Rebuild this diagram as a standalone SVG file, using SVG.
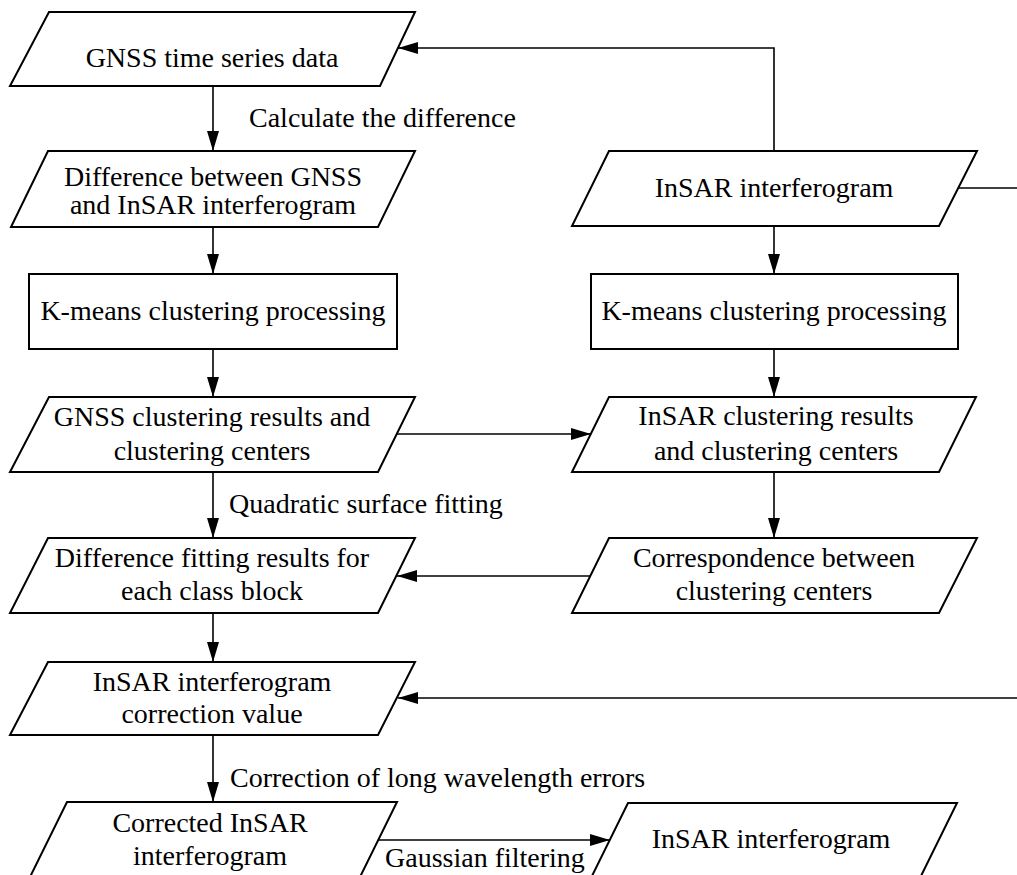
<svg xmlns="http://www.w3.org/2000/svg" width="1017" height="875" viewBox="0 0 1017 875">
<style>
.box{fill:#fff;stroke:#000;stroke-width:2}
.t{font-family:"Liberation Serif","Times New Roman",serif;font-size:28px;fill:#000;text-anchor:middle}
.lbl{font-family:"Liberation Serif","Times New Roman",serif;font-size:28px;fill:#000}
.c{fill:none;stroke:#000;stroke-width:1.6}
</style>
<defs>
<marker id="arr" markerUnits="userSpaceOnUse" markerWidth="20" markerHeight="12" refX="20" refY="6" orient="auto">
<path d="M0,0 L20,6 L0,12 z" fill="#000"/>
</marker>
</defs>
<rect width="1017" height="875" fill="#fff"/>
<g id="connectors">
<path class="c" d="M213,86 V151" marker-end="url(#arr)"/>
<path class="c" d="M213,227 V274" marker-end="url(#arr)"/>
<path class="c" d="M213,349 V397" marker-end="url(#arr)"/>
<path class="c" d="M213,472 V538" marker-end="url(#arr)"/>
<path class="c" d="M213,613 V662" marker-end="url(#arr)"/>
<path class="c" d="M213,735 V802" marker-end="url(#arr)"/>
<path class="c" d="M774,151 V48 H398" marker-end="url(#arr)"/>
<path class="c" d="M958,188 H1017"/>
<path class="c" d="M1017,698 H398" marker-end="url(#arr)"/>
<path class="c" d="M774,226 V274" marker-end="url(#arr)"/>
<path class="c" d="M774,349 V397" marker-end="url(#arr)"/>
<path class="c" d="M397,434 H591" marker-end="url(#arr)"/>
<path class="c" d="M774,472 V538" marker-end="url(#arr)"/>
<path class="c" d="M591,576 H397" marker-end="url(#arr)"/>
<path class="c" d="M378,840 H610" marker-end="url(#arr)"/>
</g>
<g id="n1">
<polygon class="box" points="49,12 415,12 380,86 10,86"/>
<text class="t" x="212" y="67">GNSS time series data</text>
</g>
<g id="n2">
<polygon class="box" points="48,151 415,151 378,227 11,227"/>
<text class="t" x="213" y="186">Difference between GNSS</text>
<text class="t" x="213" y="214">and InSAR interferogram</text>
</g>
<g id="n3">
<rect class="box" x="29" y="274" width="368" height="75"/>
<text class="t" x="213" y="320">K-means clustering processing</text>
</g>
<g id="n4">
<polygon class="box" points="49,397 415,397 378,472 10,472"/>
<text class="t" x="212" y="426">GNSS clustering results and</text>
<text class="t" x="212" y="460">clustering centers</text>
</g>
<g id="n5">
<polygon class="box" points="48,538 415,538 378,613 10,613"/>
<text class="t" x="212" y="567">Difference fitting results for</text>
<text class="t" x="212" y="600">each class block</text>
</g>
<g id="n6">
<polygon class="box" points="48,662 415,662 378,735 10,735"/>
<text class="t" x="212" y="691">InSAR interferogram</text>
<text class="t" x="212" y="723">correction value</text>
</g>
<g id="n7">
<polygon class="box" points="67,802 397,802 360,877 30,877"/>
<text class="t" x="210" y="832">Corrected InSAR</text>
<text class="t" x="210" y="865">interferogram</text>
</g>
<g id="n8">
<polygon class="box" points="628,803 957,803 920,878 591,878"/>
<text class="t" x="771" y="848">InSAR interferogram</text>
</g>
<g id="n9">
<polygon class="box" points="609,151 977,151 939,226 572,226"/>
<text class="t" x="774" y="197">InSAR interferogram</text>
</g>
<g id="n10">
<rect class="box" x="591" y="274" width="367" height="75"/>
<text class="t" x="774" y="320">K-means clustering processing</text>
</g>
<g id="n11">
<polygon class="box" points="609,397 976,397 939,472 572,472"/>
<text class="t" x="776" y="425">InSAR clustering results</text>
<text class="t" x="776" y="460">and clustering centers</text>
</g>
<g id="n12">
<polygon class="box" points="609,538 977,538 939,613 572,613"/>
<text class="t" x="774" y="567">Correspondence between</text>
<text class="t" x="774" y="600">clustering centers</text>
</g>
<g id="labels">
<text class="lbl" x="249" y="127">Calculate the difference</text>
<text class="lbl" x="229" y="513">Quadratic surface fitting</text>
<text class="lbl" x="230" y="787">Correction of long wavelength errors</text>
<text class="lbl" x="385" y="867">Gaussian filtering</text>
</g>
</svg>
